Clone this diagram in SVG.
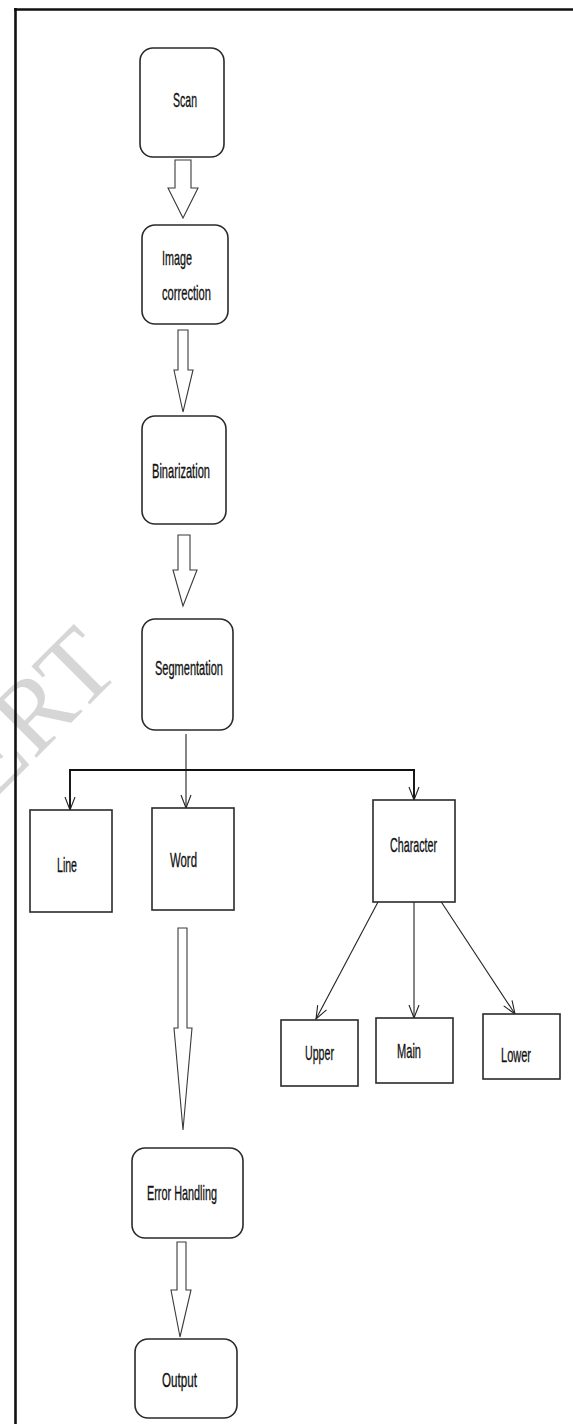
<svg xmlns="http://www.w3.org/2000/svg" width="573" height="1424" viewBox="0 0 573 1424">
  <defs>
    <style>
      .box { fill: #ffffff; stroke: #2a2a2a; stroke-width: 1.6; }
      .blk { fill: #ffffff; stroke: #3a3a3a; stroke-width: 1.1; stroke-linejoin: miter; }
      .thin { fill: none; stroke: #222222; stroke-width: 1.1; }
      .bar { fill: none; stroke: #111111; stroke-width: 2; }
      .lbl { font-family: "Liberation Sans", Arial, sans-serif; font-size: 21px; fill: #111111; stroke: #111111; stroke-width: 0.35; }
      .wm { font-family: "Liberation Serif", "Times New Roman", serif; font-size: 104px; fill: #d6d6d6; }
    </style>
    <marker id="vh" markerUnits="userSpaceOnUse" markerWidth="16" markerHeight="14" refX="0" refY="0" viewBox="-14 -7 16 14" orient="auto" overflow="visible">
      <path d="M-13,-5 L0,0 L-13,5" fill="none" stroke="#222222" stroke-width="1.1"/>
    </marker>
  </defs>
  <rect x="0" y="0" width="573" height="1424" fill="#ffffff"/>

  <!-- watermark -->
  <text class="wm" transform="translate(56,738) rotate(-45)" text-anchor="middle">ERT</text>

  <!-- frame -->
  <g id="frame">
    <line x1="14" y1="9.5" x2="573" y2="9.5" stroke="#111111" stroke-width="2.6"/>
    <line x1="15.5" y1="8" x2="15.5" y2="1424" stroke="#111111" stroke-width="2.6"/>
  </g>

  <!-- connectors -->
  <g id="connectors">
    <polygon class="blk" points="175,160 191,160 191,188 198,188 183,218 168,188 175,188"/>
    <polygon class="blk" points="178,330 188,330 188,370 193,370 183,412 174,370 178,370"/>
    <polygon class="blk" points="178,535 190,535 190,570 197,570 183,606 173,570 178,570"/>
    <polygon class="blk" points="178,928 187,928 187,1028 192,1028 183,1130 174,1028 178,1028"/>
    <polygon class="blk" points="177,1242 186,1242 186,1290 191,1290 180,1337 171,1290 177,1290"/>

    <line class="thin" x1="186" y1="734" x2="186" y2="808" marker-end="url(#vh)"/>
    <polyline class="bar" points="70,810 70,770 414,770 414,800"/>
    <line class="thin" x1="70" y1="771" x2="70" y2="810" marker-end="url(#vh)"/>
    <line class="thin" x1="414" y1="771" x2="414" y2="800" marker-end="url(#vh)"/>

    <line class="thin" x1="378" y1="902" x2="316" y2="1019" marker-end="url(#vh)"/>
    <line class="thin" x1="414" y1="899" x2="414" y2="1018" marker-end="url(#vh)"/>
    <line class="thin" x1="440" y1="900" x2="515" y2="1014" marker-end="url(#vh)"/>
  </g>

  <!-- nodes -->
  <g id="scan">
    <rect class="box" x="140" y="48" width="84" height="109" rx="13"/>
    <text class="lbl" x="173" y="107" textLength="24" lengthAdjust="spacingAndGlyphs">Scan</text>
  </g>
  <g id="image-correction">
    <rect class="box" x="142" y="225" width="86" height="99" rx="13"/>
    <text class="lbl" x="162" y="265" textLength="30" lengthAdjust="spacingAndGlyphs">Image</text>
    <text class="lbl" x="162" y="300" textLength="49" lengthAdjust="spacingAndGlyphs">correction</text>
  </g>
  <g id="binarization">
    <rect class="box" x="142" y="416" width="84" height="108" rx="13"/>
    <text class="lbl" x="152" y="478" textLength="58" lengthAdjust="spacingAndGlyphs">Binarization</text>
  </g>
  <g id="segmentation">
    <rect class="box" x="142" y="619" width="91" height="111" rx="13"/>
    <text class="lbl" x="155" y="675" textLength="68" lengthAdjust="spacingAndGlyphs">Segmentation</text>
  </g>
  <g id="line">
    <rect class="box" x="30" y="810" width="82" height="102"/>
    <text class="lbl" x="57" y="872" textLength="20" lengthAdjust="spacingAndGlyphs">Line</text>
  </g>
  <g id="word">
    <rect class="box" x="152" y="808" width="82" height="102"/>
    <text class="lbl" x="170" y="867" textLength="27" lengthAdjust="spacingAndGlyphs">Word</text>
  </g>
  <g id="character">
    <rect class="box" x="373" y="800" width="82" height="102"/>
    <text class="lbl" x="390" y="852" textLength="47" lengthAdjust="spacingAndGlyphs">Character</text>
  </g>
  <g id="upper">
    <rect class="box" x="281" y="1020" width="77" height="66"/>
    <text class="lbl" x="305" y="1060" textLength="29" lengthAdjust="spacingAndGlyphs">Upper</text>
  </g>
  <g id="main">
    <rect class="box" x="376" y="1018" width="77" height="65"/>
    <text class="lbl" x="397" y="1058" textLength="24" lengthAdjust="spacingAndGlyphs">Main</text>
  </g>
  <g id="lower">
    <rect class="box" x="483" y="1014" width="77" height="65"/>
    <text class="lbl" x="501" y="1062" textLength="30" lengthAdjust="spacingAndGlyphs">Lower</text>
  </g>
  <g id="error-handling">
    <rect class="box" x="132" y="1148" width="111" height="90" rx="13"/>
    <text class="lbl" x="147" y="1200" textLength="70" lengthAdjust="spacingAndGlyphs">Error Handling</text>
  </g>
  <g id="output">
    <rect class="box" x="135" y="1339" width="102" height="79" rx="13"/>
    <text class="lbl" x="162" y="1387" textLength="35" lengthAdjust="spacingAndGlyphs">Output</text>
  </g>
</svg>
